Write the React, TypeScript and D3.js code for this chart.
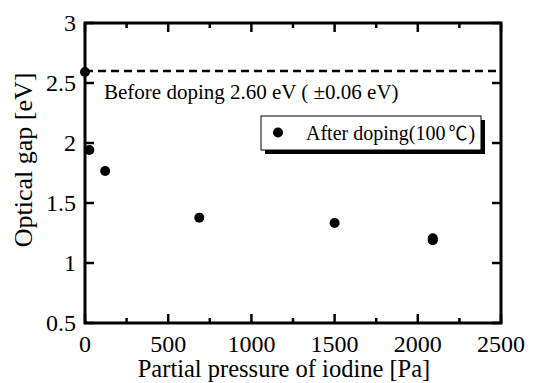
// OpticalGapChart.tsx
import React, { useRef, useEffect } from 'react';
import * as d3 from 'd3';

// measured optical gap after doping at 100 C
const pressures = [0, 26, 121, 687, 1500, 2090, 2090];
const gaps = [2.592, 1.942, 1.767, 1.378, 1.333, 1.206, 1.189];

const beforeGap = 2.6;
const xTicks = [0, 500, 1000, 1500, 2000, 2500];
const yTicks = [0.5, 1, 1.5, 2, 2.5, 3];
const xMinorTicks = [250, 750, 1250, 1750, 2250];

const width = 534;
const height = 383;

const App = () => {
  const ref = useRef<SVGSVGElement>(null);

  useEffect(() => {
    const svg = d3.select(ref.current);
    svg.selectAll('*').remove();

    const margin = { top: 23, right: 33, bottom: 60, left: 85 };
    const x = d3.scaleLinear().domain([0, 2500]).range([margin.left, width - margin.right]);
    const y = d3.scaleLinear().domain([0.5, 3]).range([height - margin.bottom, margin.top]);

    const font = '"Liberation Serif", "Times New Roman", serif';
    const [x0, x1] = x.range();
    const [y0, y1] = y.range();

    // dashed reference line
    svg.append('line')
      .attr('x1', x0).attr('x2', x1)
      .attr('y1', y(beforeGap)).attr('y2', y(beforeGap))
      .attr('stroke', '#000')
      .attr('stroke-width', 2.5)
      .attr('stroke-dasharray', '8,5');

    svg.append('text')
      .attr('x', 104)
      .attr('y', 99)
      .attr('font-family', font)
      .attr('font-size', 21)
      .text('Before doping 2.60 eV ( \u00b10.06 eV)');

    // ticks, inward on all four sides
    const tick = (x1v: number, y1v: number, x2v: number, y2v: number) =>
      svg.append('line')
        .attr('x1', x1v).attr('y1', y1v).attr('x2', x2v).attr('y2', y2v)
        .attr('stroke', '#000').attr('stroke-width', 2.5);

    xTicks.forEach(t => {
      tick(x(t), y0, x(t), y0 - 9);
      tick(x(t), y1, x(t), y1 + 9);
      svg.append('text')
        .attr('x', x(t)).attr('y', 352)
        .attr('text-anchor', 'middle')
        .attr('font-family', font).attr('font-size', 24)
        .text(t);
    });
    xMinorTicks.forEach(t => {
      tick(x(t), y0, x(t), y0 - 5);
      tick(x(t), y1, x(t), y1 + 5);
    });
    yTicks.forEach(t => {
      tick(x0, y(t), x0 + 9, y(t));
      tick(x1, y(t), x1 - 9, y(t));
      svg.append('text')
        .attr('x', 76).attr('y', y(t) + 8)
        .attr('text-anchor', 'end')
        .attr('font-family', font).attr('font-size', 24)
        .text(t);
    });

    // frame
    svg.append('rect')
      .attr('x', x0).attr('y', y1)
      .attr('width', x1 - x0).attr('height', y0 - y1)
      .attr('fill', 'none')
      .attr('stroke', '#000')
      .attr('stroke-width', 3);

    // data points
    svg.selectAll('.pt')
      .data(pressures)
      .enter()
      .append('circle')
      .attr('class', 'pt')
      .attr('cx', d => x(d))
      .attr('cy', (d, i) => y(gaps[i]))
      .attr('r', 5)
      .attr('fill', '#000');

    // legend with drop shadow
    const lg = { x: 261, y: 116, w: 220, h: 34 };
    svg.append('rect')
      .attr('x', lg.x + 4).attr('y', lg.y + 4)
      .attr('width', lg.w).attr('height', lg.h)
      .attr('fill', '#000');
    svg.append('rect')
      .attr('x', lg.x).attr('y', lg.y)
      .attr('width', lg.w).attr('height', lg.h)
      .attr('fill', '#fff')
      .attr('stroke', '#000')
      .attr('stroke-width', 1);
    svg.append('circle')
      .attr('cx', 278).attr('cy', 132.5)
      .attr('r', 5).attr('fill', '#000');
    const lt = svg.append('text')
      .attr('x', 306).attr('y', 140)
      .attr('font-family', font).attr('font-size', 20);
    lt.append('tspan').text('After doping(100');
    lt.append('tspan')
      .attr('dx', 3)
      .attr('font-family', '"Noto Sans CJK JP", serif')
      .attr('font-size', 19)
      .text('\u2103');
    lt.append('tspan').attr('dx', 1).text(')');

    // axis titles
    svg.append('text')
      .attr('x', 284).attr('y', 377)
      .attr('text-anchor', 'middle')
      .attr('font-family', font).attr('font-size', 24.5)
      .text('Partial pressure of iodine [Pa]');
    svg.append('text')
      .attr('transform', `translate(32, 160) rotate(-90)`)
      .attr('text-anchor', 'middle')
      .attr('font-family', font).attr('font-size', 26)
      .text('Optical gap [eV]');
  }, []);

  return (
    <svg
      ref={ref}
      width={width}
      height={height}
      style={{ position: 'absolute', left: 0, top: 0, background: '#fff' }}
    />
  );
};

export default App;
